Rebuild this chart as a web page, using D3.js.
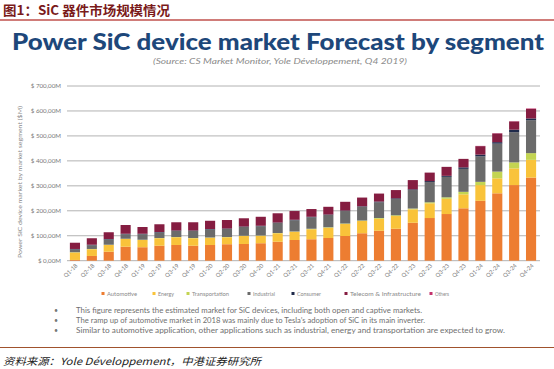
<!DOCTYPE html>
<html><head><meta charset="utf-8">
<script src="https://cdn.jsdelivr.net/npm/d3@7"></script>
<style>body{margin:0;background:#fff}svg{display:block}</style>
</head><body>
<svg id="c" width="554" height="369"></svg>
<script>
const quarters = ["Q1-18","Q2-18","Q3-18","Q4-18","Q1-19","Q2-19","Q3-19","Q4-19","Q1-20","Q2-20","Q3-20","Q4-20","Q1-21","Q2-21","Q3-21","Q4-21","Q1-22","Q2-22","Q3-22","Q4-22","Q1-23","Q2-23","Q3-23","Q4-23","Q1-24","Q2-24","Q3-24","Q4-24"];
const automotive     = [3,19,36,56,54,60,63,60,63,66,67,70,76,83,86,91,99,110,120,128,152,171,187,210,240,270,303,333];
const energy         = [30,27,27,31,29,30,31,30,29,28,32,30,34,33,40,41,48,49,48,51,54,59,61,56,63,60,67,71];
const transportation = [1,1,1,1,1,1,1,1,1,1,1,1,1,1,2,2,2,2,3,3,3,4,6,10,13,27,24,27];
const industrial     = [11,15,21,18,22,22,24,28,32,32,35,37,40,45,46,49,50,55,63,65,74,81,82,92,102,112,121,132];
const consumer       = [2,2,2,2,2,2,2,2,2,2,2,2,2,2,2,2,2,2,3,3,3,4,4,6,7,6,10,7];
const telecom        = [25,26,27,35,27,31,33,33,33,34,33,36,37,35,31,31,35,35,32,33,37,34,36,34,34,35,33,38];
const others         = [0,0,0,0,0,0,0,0,0,0,0,0,0,0,0,0,0,0,0,0,0,0,0,0,1,1,1,2];
const seriesNames = ["Automotive","Energy","Transportation","Industrial","Consumer","Telecom & Infrastructure","Others"];
const seriesVals = [automotive,energy,transportation,industrial,consumer,telecom,others];
const colors = ["#ED7D31","#F9C33A","#C3D452","#6B6B6B","#1F2A4A","#851D41","#C4336D"];
const yTicks = [0,100,200,300,400,500,600,700];
const yTickLabels = ["$ 0,00M","$ 100,00M","$ 200,00M","$ 300,00M","$ 400,00M","$ 500,00M","$ 600,00M","$ 700,00M"];
const notes = ["This figure represents the estimated market for SiC devices, including both open and captive markets.",
  "The ramp up of automotive market in 2018 was mainly due to Tesla\u2019s adoption of SiC in its main inverter.",
  "Similar to automotive application, other applications such as industrial, energy and transportation are expected to grow."];

const svg = d3.select("#c");
const F = "Lato, 'Open Sans', sans-serif";

// header
svg.append("text").attr("x",3).attr("y",14.5).text("图1：SiC 器件市场规模情况")
  .attr("font-family","'Noto Sans CJK SC', sans-serif").attr("font-weight","bold").attr("font-size",13).attr("fill","#7a1a1a")
  .attr("textLength",167).attr("lengthAdjust","spacingAndGlyphs");
svg.append("line").attr("x1",0).attr("x2",554).attr("y1",20).attr("y2",20).attr("stroke","#c0504d").attr("stroke-width",1.5);

svg.append("text").attr("x",278).attr("y",50).attr("text-anchor","middle")
  .text("Power SiC device market Forecast by segment")
  .attr("font-family",F).attr("font-weight","900").attr("font-size",22.5).attr("fill","#1d477a")
  .attr("textLength",532).attr("lengthAdjust","spacingAndGlyphs");
svg.append("text").attr("x",280).attr("y",63.5).attr("text-anchor","middle")
  .text("(Source: CS Market Monitor, Yole Développement, Q4 2019)")
  .attr("font-family",F).attr("font-style","italic").attr("font-size",8.5).attr("fill","#8a8a8a")
  .attr("textLength",254).attr("lengthAdjust","spacingAndGlyphs");

const x = d3.scaleBand().domain(quarters).range([66.5,539.5]).paddingInner(0.4).paddingOuter(0.2);
const y = d3.scaleLinear().domain([0,700]).range([260.7,86]);

// grid
svg.append("g").selectAll("line").data(yTicks).join("line")
  .attr("x1",67).attr("x2",540).attr("y1",d=>y(d)).attr("y2",d=>y(d))
  .attr("stroke","#a9a9a9").attr("stroke-width",0.9);
svg.append("g").selectAll("text").data(yTicks).join("text")
  .attr("x",61).attr("y",d=>y(d)+2).attr("text-anchor","end")
  .text((d,i)=>yTickLabels[i]).attr("font-family",F).attr("font-size",6.2).attr("fill","#777");

svg.append("text").attr("transform","translate(22,182) rotate(-90)").attr("text-anchor","middle")
  .text("Power SiC device market by market segment ($M)")
  .attr("font-family",F).attr("font-size",6).attr("fill","#888")
  .attr("textLength",152).attr("lengthAdjust","spacingAndGlyphs");

// stack
const rows = quarters.map((q,i)=>{const r={q}; seriesNames.forEach((s,j)=>r[s]=seriesVals[j][i]); return r;});
const stack = d3.stack().keys(seriesNames)(rows);
svg.append("g").selectAll("g").data(stack).join("g").attr("fill",(d,i)=>colors[i])
  .selectAll("rect").data(d=>d).join("rect")
  .attr("x",d=>x(d.data.q)).attr("width",x.bandwidth())
  .attr("y",d=>y(d[1])).attr("height",d=>Math.max(0,y(d[0])-y(d[1])));

// x labels
svg.append("g").selectAll("text").data(quarters).join("text")
  .attr("transform",d=>`translate(${x(d)+x.bandwidth()/2+3},${266}) rotate(-45)`)
  .attr("text-anchor","end").text(d=>d)
  .attr("font-family",F).attr("font-size",5.8).attr("fill","#777");

// legend
const lx = [103,154,188,249,293,346,431];
const lw = [32,18,39,24,26,73,16];
const lg = svg.append("g").selectAll("g").data(seriesNames).join("g")
  .attr("transform",(d,i)=>`translate(${lx[i]},296)`);
lg.append("rect").attr("x",-1.5).attr("y",-4).attr("width",3).attr("height",3).attr("fill",(d,i)=>colors[i]);
lg.append("text").attr("x",4).attr("y",0).text(d=>d).attr("font-family",F).attr("font-size",6).attr("fill","#888")
  .attr("textLength",(d,i)=>lw[i]-2).attr("lengthAdjust","spacingAndGlyphs");

// notes
const nw = [346,349,429];
const ng = svg.append("g").selectAll("g").data(notes).join("g").attr("transform",(d,i)=>`translate(0,${312.5+i*10})`);
ng.append("text").attr("x",54).attr("y",0).text("•").attr("font-family",F).attr("font-size",7).attr("fill","#777");
ng.append("text").attr("x",76).attr("y",0).text(d=>d).attr("font-family",F).attr("font-size",7.4).attr("fill","#6f6f6f")
  .attr("textLength",(d,i)=>nw[i]).attr("lengthAdjust","spacingAndGlyphs");

svg.append("line").attr("x1",0).attr("x2",554).attr("y1",347.5).attr("y2",347.5).attr("stroke","#a0522d").attr("stroke-width",1.2);
svg.append("text").attr("x",3).attr("y",364.5)
  .text("资料来源：Yole Développement，中港证券研究所")
  .attr("font-family","'Noto Sans CJK SC', sans-serif").attr("font-style","italic").attr("font-size",10).attr("fill","#222")
  .attr("textLength",258).attr("lengthAdjust","spacingAndGlyphs");
</script>
</body></html>
